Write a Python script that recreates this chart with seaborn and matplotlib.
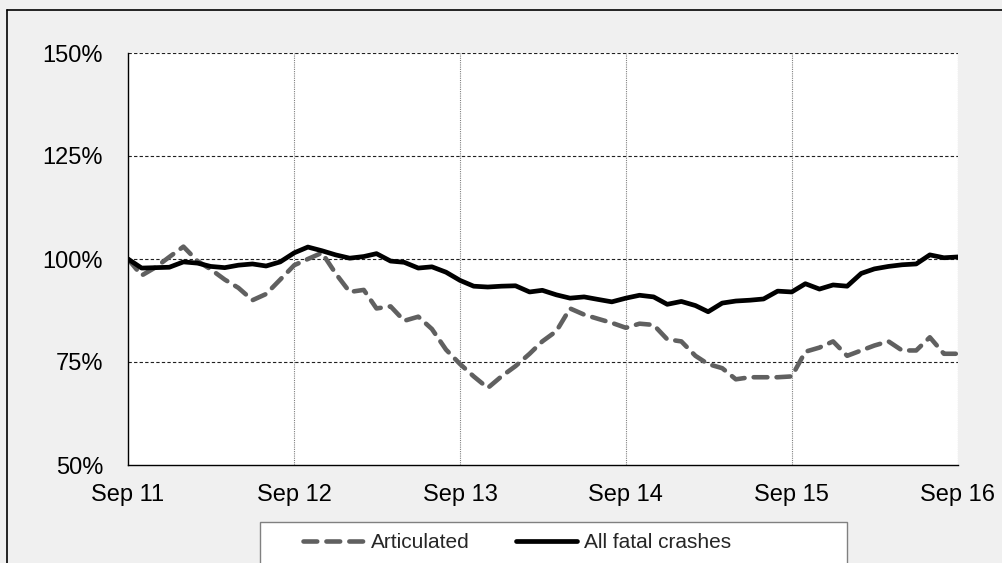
import matplotlib
matplotlib.use('Agg')
import matplotlib.pyplot as plt
import matplotlib.dates as mdates
import pandas as pd
import seaborn as sns
from matplotlib.patches import Rectangle
from matplotlib.lines import Line2D
from matplotlib.ticker import FuncFormatter

# Monthly index, Sep 2011 = 100%
months = pd.date_range('2011-09-01', periods=61, freq='MS')

articulated = [
    100, 96, 98, 100.5, 103, 99.5, 97.5, 95, 93, 90,
    91.5, 95, 98.5, 100, 101.5, 96.5, 92, 92.5, 88, 88.5,
    85, 86, 83, 78, 74.5, 71.5, 68.7, 71.5, 74, 77,
    80, 82.5, 88, 86.5, 85.5, 84.5, 83.3, 84.3, 84, 80.5,
    80, 76.5, 74.5, 73.5, 70.8, 71.3, 71.3, 71.3, 71.5, 77.5,
    78.5, 80, 76.5, 77.8, 79, 80, 77.8, 77.8, 81, 77,
    77,
]

all_fatal = [
    100, 97.8, 97.9, 98, 99.3, 99, 98.2, 97.9, 98.5, 98.8,
    98.3, 99.3, 101.5, 102.9, 102, 101, 100.2, 100.6, 101.3, 99.5,
    99.2, 97.8, 98.1, 96.8, 94.8, 93.4, 93.2, 93.4, 93.5, 92,
    92.4, 91.3, 90.5, 90.8, 90.2, 89.6, 90.5, 91.2, 90.8, 89,
    89.7, 88.7, 87.2, 89.3, 89.8, 90, 90.3, 92.2, 92, 94,
    92.7, 93.7, 93.4, 96.5, 97.6, 98.2, 98.6, 98.8, 101, 100.3,
    100.5,
]

y_ticks = [50, 75, 100, 125, 150]
x_ticks = pd.date_range('2011-09-01', periods=6, freq='12MS')

df = pd.DataFrame({'month': months, 'Articulated': articulated,
                   'All fatal crashes': all_fatal})

sns.set_style('white')
plt.rcParams['font.family'] = ['Liberation Sans', 'DejaVu Sans']

fig = plt.figure(figsize=(10.02, 5.63), dpi=100, facecolor='#f0f0f0')
ax = fig.add_axes([128 / 1002, 1 - 465 / 563, 830 / 1002, 412 / 563])
ax.set_facecolor('white')

sns.lineplot(data=df, x='month', y='Articulated', ax=ax, color='#606060',
             linewidth=3.3, label='Articulated')
dash_line = ax.lines[-1]
dash_line.set_dashes((3.0, 2.0))
dash_line.set_dash_capstyle('round')
sns.lineplot(data=df, x='month', y='All fatal crashes', ax=ax, color='black',
             linewidth=3.4, label='All fatal crashes')
ax.lines[-1].set_solid_joinstyle('round')

# Axes limits and ticks
ax.set_xlim(months[0], months[-1])
ax.set_ylim(50, 150)
ax.set_yticks(y_ticks)
ax.yaxis.set_major_formatter(FuncFormatter(lambda v, p: f'{v:.0f}%'))
ax.set_xticks(x_ticks)
ax.xaxis.set_major_formatter(mdates.DateFormatter('%b %y'))
ax.set_xlabel('')
ax.set_ylabel('')
ax.tick_params(axis='both', labelsize=17, direction='out', length=6,
               width=0.8, color='#404040', labelcolor='black')
ax.tick_params(axis='y', pad=12)
ax.tick_params(axis='x', pad=8)

# Gridlines
for v in y_ticks[1:]:
    ax.axhline(v, color='#202020', linewidth=0.8, linestyle=(0, (3, 2)), zorder=0)
for d in x_ticks[1:]:
    ax.axvline(d, color='#808080', linewidth=0.8, linestyle=(0, (1, 1)), zorder=0)

for side in ['top', 'right']:
    ax.spines[side].set_visible(False)
ax.spines['left'].set_color('black')
ax.spines['bottom'].set_color('black')
ax.spines['left'].set_linewidth(1.0)
ax.spines['bottom'].set_linewidth(1.0)

# Legend box (cut at the bottom edge)
fig.patches.append(Rectangle((260 / 1002, -0.05), 587 / 1002, 0.05 + 41 / 563,
                             transform=fig.transFigure, facecolor='white',
                             edgecolor='#808080', linewidth=1.0, zorder=-1))
leg = ax.legend(loc='center', bbox_to_anchor=(517 / 1002, 1 - 543 / 563),
                bbox_transform=fig.transFigure, ncol=2, frameon=False,
                fontsize=15, handlelength=2.9, handletextpad=0.35,
                columnspacing=2.25)

# Outer chart border
fig.lines.append(Line2D([7 / 1002, 7 / 1002], [0, 1 - 10 / 563],
                        transform=fig.transFigure, color='black', linewidth=1.2))
fig.lines.append(Line2D([7 / 1002, 1], [1 - 10 / 563, 1 - 10 / 563],
                        transform=fig.transFigure, color='black', linewidth=1.2))

fig.savefig('out.png', dpi=100, facecolor=fig.get_facecolor())
